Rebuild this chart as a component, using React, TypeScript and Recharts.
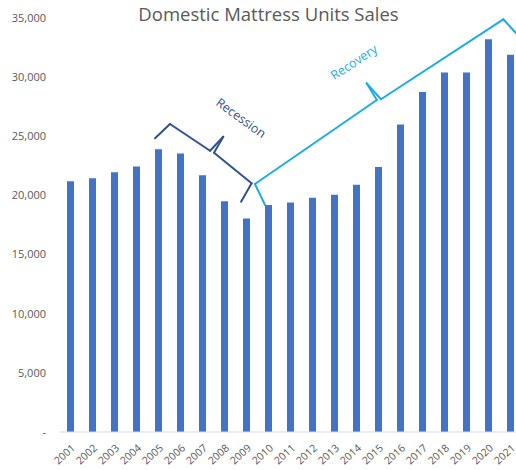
import React from "react";
import { BarChart, Bar, XAxis, YAxis, ReferenceLine, ReferenceDot } from "recharts";

const years = [2001, 2002, 2003, 2004, 2005, 2006, 2007, 2008, 2009, 2010, 2011, 2012, 2013, 2014, 2015, 2016, 2017, 2018, 2019, 2020, 2021];
const units = [21200, 21450, 21950, 22450, 23900, 23550, 21700, 19500, 18050, 19200, 19400, 19800, 20050, 20900, 22400, 26000, 28750, 30400, 30400, 33200, 31900];
const yTicks = [0, 5000, 10000, 15000, 20000, 25000, 30000, 35000];

// bracket annotations in data coordinates [year, units]
const recessionBracket: [number, number][] = [
  [2004.82, 24830], [2005.5, 26040], [2007.32, 23780], [2007.92, 24965],
  [2007.5, 23610], [2009.21, 21025], [2008.73, 19470],
];
const recoveryBracket: [number, number][] = [
  [2009.82, 19190], [2009.36, 20970], [2014.9, 28070], [2014.44, 29480],
  [2015.09, 28130], [2020.65, 34890], [2021.64, 32890],
];
const recessionLabel = { text: "Recession", x: 2008.73, y: 26550, angle: 36 };
const recoveryLabel = { text: "Recovery", x: 2013.86, y: 31280, angle: -33.5 };

const data = years.map((y, i) => ({ year: y, units: units[i] }));

const RECESSION = "#2F5191";
const RECOVERY = "#1AADE4";
const FONT = "'Open Sans', sans-serif";

const XTick = (props: any) => {
  const { x, y, payload } = props;
  const tx = x + 5;
  const ty = y + 17;
  return (
    <text x={tx} y={ty} textAnchor="end" fontSize={10.5} fill="#595959" fontFamily={FONT} transform={`rotate(-42, ${tx}, ${ty})`}>
      {payload.value}
    </text>
  );
};

const segs = (pts: [number, number][]) =>
  pts.slice(1).map((p, i) => [{ x: pts[i][0], y: pts[i][1] }, { x: p[0], y: p[1] }]);

const labelShape = (lab: { text: string; angle: number }, color: string) => (p: any) => (
  <text x={p.cx} y={p.cy} textAnchor="middle" dominantBaseline="central" fontSize={12.5} fill={color} fontFamily={FONT}
    transform={`rotate(${lab.angle}, ${p.cx}, ${p.cy})`}>
    {lab.text}
  </text>
);

export default function App() {
  return (
    <div style={{ position: "fixed", left: 0, top: 0, width: 516, height: 470, overflow: "hidden", background: "#fff" }}>
      <BarChart width={540} height={470} data={data} margin={{ top: 18, right: 18, bottom: 0, left: 0 }}>
        <XAxis
          dataKey="year"
          type="number"
          domain={[2000.5, 2021.5]}
          ticks={years}
          interval={0}
          height={38}
          tickSize={0}
          tickMargin={0}
          tick={<XTick />}
          axisLine={{ stroke: "#D9D9D9", strokeWidth: 1 }}
          allowDataOverflow
        />
        <YAxis
          domain={[0, 35000]}
          ticks={yTicks}
          width={60}
          axisLine={false}
          tickLine={false}
          tickSize={0}
          tickMargin={14}
          tick={{ fontSize: 11, fill: "#595959", fontFamily: FONT }}
          tickFormatter={(v: number) => (v === 0 ? "-" : v.toLocaleString("en-US"))}
        />
        <Bar dataKey="units" fill="#4472C4" barSize={7} isAnimationActive={false} />
        {segs(recessionBracket).map((s, i) => (
          <ReferenceLine key={"rs" + i} segment={s} stroke={RECESSION} strokeWidth={2} strokeLinecap="round" ifOverflow="visible" />
        ))}
        {segs(recoveryBracket).map((s, i) => (
          <ReferenceLine key={"rc" + i} segment={s} stroke={RECOVERY} strokeWidth={2} strokeLinecap="round" ifOverflow="visible" />
        ))}
        <ReferenceDot x={recessionLabel.x} y={recessionLabel.y} r={0} ifOverflow="visible" shape={labelShape(recessionLabel, RECESSION)} />
        <ReferenceDot x={recoveryLabel.x} y={recoveryLabel.y} r={0} ifOverflow="visible" shape={labelShape(recoveryLabel, RECOVERY)} />
      </BarChart>
      <svg width={516} height={40} style={{ position: "absolute", left: 0, top: 0, pointerEvents: "none" }}>
        <text x={268.5} y={21} textAnchor="middle" fontSize={18.5} fill="#595959" fontFamily={FONT}>
          Domestic Mattress Units Sales
        </text>
      </svg>
    </div>
  );
}
